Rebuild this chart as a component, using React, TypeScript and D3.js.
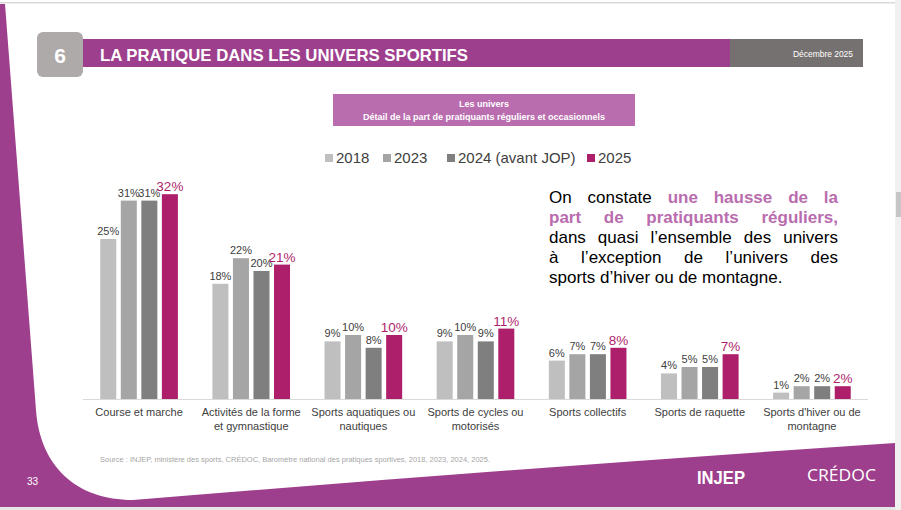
import React, { useEffect, useRef } from 'react';
import * as d3 from 'd3';

const width = 901;
const height = 510;

const categories = [
  'Course et marche',
  'Activités de la forme et gymnastique',
  'Sports aquatiques ou nautiques',
  'Sports de cycles ou motorisés',
  'Sports collectifs',
  'Sports de raquette',
  "Sports d'hiver ou de montagne",
];
const categoryLines = [
  ['Course et marche'],
  ['Activités de la forme', 'et gymnastique'],
  ['Sports aquatiques ou', 'nautiques'],
  ['Sports de cycles ou', 'motorisés'],
  ['Sports collectifs'],
  ['Sports de raquette'],
  ["Sports d'hiver ou de", 'montagne'],
];
const years = ['2018', '2023', '2024 (avant JOP)', '2025'];
const values2018 = [25, 18, 9, 9, 6, 4, 1];
const values2023 = [31, 22, 10, 10, 7, 5, 2];
const values2024 = [31, 20, 8, 9, 7, 5, 2];
const values2025 = [32, 21, 10, 11, 8, 7, 2];
const yearColors = ['#bfbfbf', '#a5a5a5', '#7f7f7f', '#ae1f6b'];

const paragraphLines = [
  [{ t: 'On constate', hl: false }, { t: 'une hausse de la', hl: true }],
  [{ t: 'part de pratiquants réguliers,', hl: true }],
  [{ t: 'dans quasi l’ensemble des univers', hl: false }],
  [{ t: 'à l’exception de l’univers des', hl: false }],
  [{ t: 'sports d’hiver ou de montagne.', hl: false }],
];

const purple = '#9e3f8d';
const font = '"Liberation Sans", Arial, sans-serif';

const App: React.FC = () => {
  const ref = useRef<SVGSVGElement>(null);

  useEffect(() => {
    if (!ref.current) return;
    const svg = d3.select(ref.current);
    svg.selectAll('*').remove();

    // slide background
    svg.append('rect').attr('width', width).attr('height', height).attr('fill', '#ffffff');
    svg.append('rect').attr('x', 0).attr('y', 4).attr('width', 895).attr('height', 503).attr('fill', purple);
    svg
      .append('path')
      .attr('d', 'M5,4 L895,4 L895,443 Q520,468 133,500 C76,500 40,466 36,410 Z')
      .attr('fill', '#ffffff');
    svg.append('rect').attr('x', 0).attr('y', 2).attr('width', 895).attr('height', 1.5).attr('fill', '#d9d9d9');
    svg.append('rect').attr('x', 895).attr('y', 0).attr('width', 6).attr('height', height).attr('fill', '#f0f0f0');
    svg.append('rect').attr('x', 896).attr('y', 192).attr('width', 5).attr('height', 25).attr('fill', '#c6c6c6');
    svg.append('rect').attr('x', 0).attr('y', 507).attr('width', 895).attr('height', 3).attr('fill', '#e6e6e6');

    // header
    svg.append('rect').attr('x', 82).attr('y', 39).attr('width', 648).attr('height', 28).attr('fill', purple);
    svg.append('rect').attr('x', 730).attr('y', 39).attr('width', 133).attr('height', 28).attr('fill', '#767171');
    svg
      .append('rect')
      .attr('x', 37)
      .attr('y', 32)
      .attr('width', 46)
      .attr('height', 45)
      .attr('rx', 6)
      .attr('fill', '#aeaaaa');
    svg
      .append('text')
      .attr('x', 60)
      .attr('y', 63)
      .attr('text-anchor', 'middle')
      .attr('font-family', font)
      .attr('font-weight', 'bold')
      .attr('font-size', 21)
      .attr('fill', '#fff')
      .text('6');
    svg
      .append('text')
      .attr('x', 100)
      .attr('y', 60.5)
      .attr('font-family', '"Liberation Sans Narrow", "Liberation Sans", Arial, sans-serif')
      .attr('font-weight', 'bold')
      .attr('font-size', 16.5)
      .attr('fill', '#fff')
      .attr('textLength', 368)
      .attr('lengthAdjust', 'spacingAndGlyphs')
      .text('LA PRATIQUE DANS LES UNIVERS SPORTIFS');
    svg
      .append('text')
      .attr('x', 793)
      .attr('y', 57)
      .attr('font-family', font)
      .attr('font-size', 9.5)
      .attr('fill', '#fff')
      .attr('textLength', 60)
      .attr('lengthAdjust', 'spacingAndGlyphs')
      .text('Décembre 2025');

    // subtitle box
    svg.append('rect').attr('x', 333).attr('y', 94).attr('width', 302).attr('height', 32).attr('fill', '#b96dae');
    const sub = svg
      .append('text')
      .attr('text-anchor', 'middle')
      .attr('font-family', font)
      .attr('font-weight', 'bold')
      .attr('font-size', 9)
      .attr('fill', '#fff');
    sub.append('tspan').attr('x', 484).attr('y', 106.5).text('Les univers');
    sub.append('tspan').attr('x', 484).attr('y', 120).text('Détail de la part de pratiquants réguliers et occasionnels');

    // legend
    const legendX = [325, 383, 447, 587];
    years.forEach((yr, i) => {
      svg.append('rect').attr('x', legendX[i]).attr('y', 154).attr('width', 8).attr('height', 8).attr('fill', yearColors[i]);
      svg
        .append('text')
        .attr('x', legendX[i] + 11)
        .attr('y', 163)
        .attr('font-family', font)
        .attr('font-size', 15)
        .attr('fill', '#404040')
        .text(yr);
    });

    // chart
    const series = [values2018, values2023, values2024, values2025];
    const x0 = d3.scaleBand<string>().domain(categories).range([83, 868]);
    const x1 = d3
      .scaleBand<string>()
      .domain(years)
      .range([0, x0.bandwidth()])
      .paddingInner(0.22)
      .paddingOuter(0.84);
    const y = d3.scaleLinear().domain([0, 40]).range([399, 143]);

    const groups = svg
      .append('g')
      .selectAll('g')
      .data(categories)
      .enter()
      .append('g')
      .attr('transform', d => `translate(${x0(d)},0)`);

    groups.each(function (cat, ci) {
      const g = d3.select(this);
      years.forEach((yr, si) => {
        const v = series[si][ci];
        g.append('rect')
          .attr('x', x1(yr)!)
          .attr('y', y(v))
          .attr('width', x1.bandwidth())
          .attr('height', y(0) - y(v))
          .attr('fill', yearColors[si]);
        const last = si === 3;
        g.append('text')
          .attr('x', x1(yr)! + x1.bandwidth() / 2)
          .attr('y', y(v) - (last ? 3 : 4))
          .attr('text-anchor', 'middle')
          .attr('font-family', font)
          .attr('font-size', last ? 13.5 : 11)
          .attr('fill', last ? '#ae1f6b' : '#404040')
          .text(`${v}%`);
      });
      categoryLines[ci].forEach((line, li) => {
        g.append('text')
          .attr('x', x0.bandwidth() / 2)
          .attr('y', 416 + li * 14)
          .attr('text-anchor', 'middle')
          .attr('font-family', font)
          .attr('font-size', 11)
          .attr('fill', '#404040')
          .text(line);
      });
    });

    svg
      .append('line')
      .attr('x1', 83)
      .attr('x2', 868)
      .attr('y1', 399.5)
      .attr('y2', 399.5)
      .attr('stroke', '#d9d9d9')
      .attr('stroke-width', 1);

    // justified paragraph
    const paraLeft = 549;
    const paraRight = 838;
    const para = svg.append('g');
    paragraphLines.forEach((segs, li) => {
      const words: { t: string; hl: boolean }[] = [];
      segs.forEach(s => s.t.split(' ').forEach(w => words.push({ t: w, hl: s.hl })));
      const nodes = words.map(w =>
        para
          .append('text')
          .attr('y', 203 + li * 20)
          .attr('font-family', font)
          .attr('font-size', 17)
          .attr('font-weight', w.hl ? 'bold' : 'normal')
          .attr('fill', w.hl ? '#b96dae' : '#000')
          .text(w.t)
      );
      const widths = nodes.map(n => (n.node() as SVGTextElement).getComputedTextLength());
      const total = d3.sum(widths);
      const isLast = li === paragraphLines.length - 1;
      const gap = isLast || words.length < 2 ? 4.7 : Math.max(3, (paraRight - paraLeft - total) / (words.length - 1));
      let cx = paraLeft;
      nodes.forEach((n, i) => {
        n.attr('x', cx);
        cx += widths[i] + gap;
      });
    });

    // footer
    svg
      .append('text')
      .attr('x', 100)
      .attr('y', 462)
      .attr('font-family', font)
      .attr('font-size', 7)
      .attr('fill', '#a6a6a6')
      .attr('textLength', 390)
      .attr('lengthAdjust', 'spacingAndGlyphs')
      .text('Source : INJEP, ministère des sports, CRÉDOC, Baromètre national des pratiques sportives, 2018, 2023, 2024, 2025.');
    svg
      .append('text')
      .attr('x', 27)
      .attr('y', 485)
      .attr('font-family', font)
      .attr('font-size', 10)
      .attr('fill', '#fff')
      .text('33');
    svg
      .append('text')
      .attr('x', 697)
      .attr('y', 484)
      .attr('font-family', font)
      .attr('font-weight', 'bold')
      .attr('font-size', 17.5)
      .attr('fill', '#fff')
      .attr('textLength', 48)
      .attr('lengthAdjust', 'spacingAndGlyphs')
      .text('INJEP');
    svg
      .append('text')
      .attr('x', 807)
      .attr('y', 481)
      .attr('font-family', '"Open Sans", "Liberation Sans", sans-serif')
      .attr('font-size', 17)
      .attr('fill', '#fff')
      .attr('textLength', 69)
      .attr('lengthAdjust', 'spacingAndGlyphs')
      .text('CRÉDOC');
  }, []);

  return (
    <svg
      ref={ref}
      width={width}
      height={height}
      style={{ position: 'absolute', left: 0, top: 0, display: 'block' }}
    />
  );
};

export default App;
